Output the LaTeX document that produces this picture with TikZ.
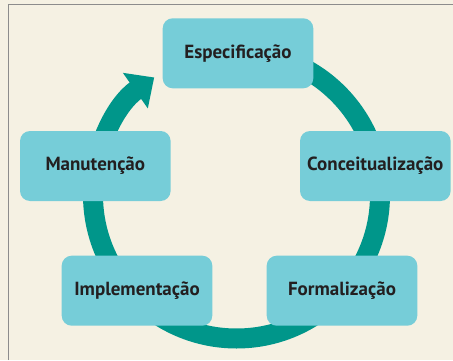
\documentclass[tikz,border=0pt]{standalone}
\usepackage{fontspec}
\setmainfont{PT Sans}
\usetikzlibrary{arrows.meta, positioning}
\definecolor{bgcream}{HTML}{F5F1E3}
\definecolor{framegray}{HTML}{8C8C8C}
\definecolor{ringteal}{HTML}{00968A}
\definecolor{boxcyan}{HTML}{76CDD8}
\definecolor{txtdark}{HTML}{231F20}

\begin{document}
\begin{tikzpicture}[x=1pt, y=1pt,
  phase/.style={fill=boxcyan, rounded corners=10pt, minimum width=150.6pt,
    minimum height=70pt, inner sep=0pt, text=txtdark,
    font=\fontsize{19}{21}\selectfont\bfseries}]

% Background
\fill[bgcream] (0,0) rectangle (453,360);
\useasboundingbox (0,0) rectangle (453,360);

% Frame (only top and left edges show)
\draw[framegray, line width=1pt] (8.7,0) -- (8.7,355.3) -- (453,355.3);

% Ring with arrow into Especificacao
\coordinate (ctr) at (236.5,165);
\draw[ringteal, line width=20pt, -{Triangle[length=23pt, width=42pt]}]
  (ctr) ++(90:143.5) arc[start angle=90, end angle=-235, radius=143.5];

% Phases
\node[phase] (espec) at (238,306.7) {Especificação};
\node[phase] (conc) at (375.3,194) {Conceitualização};
\node[phase] (manut) at (95.3,194) {Manutenção};
\node[phase] (impl) at (137,69.3) {Implementação};
\node[phase] (form) at (342,69.3) {Formalização};

\end{tikzpicture}
\end{document}
